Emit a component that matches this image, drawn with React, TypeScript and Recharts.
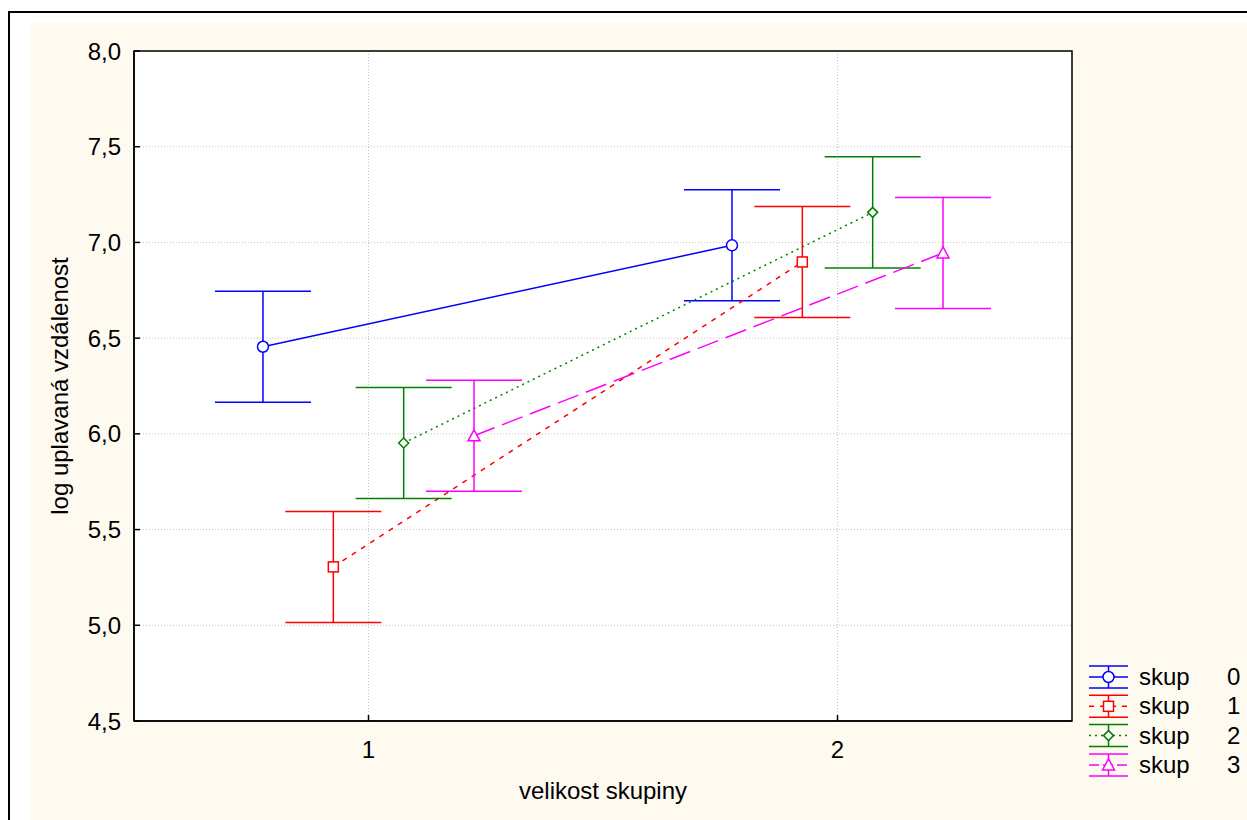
import React from "react";
import {
  ComposedChart,
  Line,
  XAxis,
  YAxis,
  CartesianGrid,
  ErrorBar,
  Legend,
  ReferenceArea,
} from "recharts";

// group sizes on the x axis, each series shifted a bit so bars don't overlap
const groups = [1, 2];
const groupOffsets = [-0.225, -0.075, 0.075, 0.225];

const seriesLabels = ["0", "1", "2", "3"];
const skup0 = [6.455, 6.985];
const skup1 = [5.305, 6.898];
const skup2 = [5.952, 7.157];
const skup3 = [5.99, 6.945];
const errSkup0 = [0.29, 0.29];
const errSkup1 = [0.29, 0.29];
const errSkup2 = [0.29, 0.29];
const errSkup3 = [0.29, 0.29];

const yTicks = [4.5, 5, 5.5, 6, 6.5, 7, 7.5, 8];
const xTicks = [1, 2];

const FONT = '"Liberation Sans", Arial, sans-serif';
const FS = 24;

type Shape = "circle" | "square" | "diamond" | "triangle";

const seriesStyle: { color: string; dash?: string; shape: Shape }[] = [
  { color: "#0000ff", shape: "circle" },
  { color: "#ff0000", dash: "5 6", shape: "square" },
  { color: "#008000", dash: "2 4", shape: "diamond" },
  { color: "#ff00ff", dash: "22 8", shape: "triangle" },
];

const values = [skup0, skup1, skup2, skup3];
const errors = [errSkup0, errSkup1, errSkup2, errSkup3];

const seriesData = values.map((vals, s) =>
  groups.map((g, i) => ({
    x: g + groupOffsets[s],
    y: vals[i],
    err: errors[s][i],
  }))
);

function Marker({ shape, cx, cy, color }: { shape: Shape; cx: number; cy: number; color: string }) {
  const common = { fill: "#fff", stroke: color, strokeWidth: 1.5 };
  if (shape === "circle") return <circle cx={cx} cy={cy} r={5.5} {...common} />;
  if (shape === "square")
    return <rect x={cx - 5} y={cy - 5} width={10} height={10} {...common} />;
  if (shape === "diamond")
    return (
      <polygon
        points={`${cx},${cy - 5} ${cx + 5},${cy} ${cx},${cy + 5} ${cx - 5},${cy}`}
        {...common}
      />
    );
  return (
    <polygon
      points={`${cx},${cy - 6} ${cx + 6},${cy + 5} ${cx - 6},${cy + 5}`}
      {...common}
    />
  );
}

const renderDot = (s: number) => (props: any) => {
  const st = seriesStyle[s];
  return (
    <Marker
      key={`dot-${s}-${props.index}`}
      shape={st.shape}
      cx={props.cx}
      cy={props.cy}
      color={st.color}
    />
  );
};

const LegendContent = () => (
  <svg width={170} height={130} style={{ overflow: "visible" }}>
    {seriesStyle.map((st, i) => {
      const cy = 17 + i * 29.3;
      return (
        <g key={i}>
          <line x1={4} x2={43} y1={cy - 11} y2={cy - 11} stroke={st.color} strokeWidth={1.5} />
          <line x1={4} x2={43} y1={cy + 11} y2={cy + 11} stroke={st.color} strokeWidth={1.5} />
          <line x1={23.5} x2={23.5} y1={cy - 11} y2={cy + 11} stroke={st.color} strokeWidth={1.5} />
          <line
            x1={4}
            x2={43}
            y1={cy}
            y2={cy}
            stroke={st.color}
            strokeWidth={1.5}
            strokeDasharray={st.dash === "22 8" ? "10 4" : st.dash}
          />
          <Marker shape={st.shape} cx={23.5} cy={cy} color={st.color} />
          <text x={54} y={cy + 8} fontSize={FS} fill="#000" fontFamily={FONT}>
            skup
          </text>
          <text x={142} y={cy + 8} fontSize={FS} fill="#000" fontFamily={FONT}>
            {seriesLabels[i]}
          </text>
        </g>
      );
    })}
  </svg>
);

const fmt = (v: number) => v.toFixed(1).replace(".", ",");

export default function App() {
  return (
    <div
      style={{
        position: "fixed",
        left: 0,
        top: 0,
        width: 1247,
        height: 820,
        overflow: "hidden",
        background: "#fff",
        fontFamily: FONT,
      }}
    >
      <div
        style={{
          position: "absolute",
          left: 8,
          top: 11,
          width: 1300,
          height: 900,
          border: "2px solid #000",
          boxSizing: "border-box",
        }}
      />
      <div
        style={{
          position: "absolute",
          left: 30,
          top: 23,
          width: 1217,
          height: 797,
          background: "#fffaf0",
        }}
      >
        <ComposedChart
          width={1217}
          height={797}
          margin={{ top: 28, right: 175, bottom: 69, left: 0 }}
        >
          <CartesianGrid stroke="#c4c4c4" strokeDasharray="1 2" fill="#fff" fillOpacity={1} />
          <XAxis
            dataKey="x"
            type="number"
            domain={[0.5, 2.5]}
            ticks={xTicks}
            allowDataOverflow
            height={30}
            tickSize={-6}
            tickMargin={26}
            tick={{ fill: "#000", fontSize: FS }}
            tickLine={{ stroke: "#000", strokeWidth: 1.5 }}
            axisLine={{ stroke: "#000", strokeWidth: 1.5 }}
            label={{
              value: "velikost skupiny",
              position: "bottom",
              offset: 31,
              style: { fill: "#000", fontSize: FS },
            }}
          />
          <YAxis
            type="number"
            domain={[4.5, 8]}
            ticks={yTicks}
            allowDataOverflow
            width={104}
            tickSize={-6}
            tickMargin={19}
            tickFormatter={fmt}
            tick={{ fill: "#000", fontSize: FS }}
            tickLine={{ stroke: "#000", strokeWidth: 1.5 }}
            axisLine={{ stroke: "#000", strokeWidth: 1.5 }}
            label={{
              value: "log uplavaná vzdálenost",
              angle: -90,
              position: "insideLeft",
              offset: 29,
              style: { fill: "#000", fontSize: FS, textAnchor: "middle" },
            }}
          />
          <ReferenceArea
            x1={0.5}
            x2={2.5}
            y1={4.5}
            y2={8}
            fill="none"
            stroke="#000"
            strokeWidth={1.5}
            ifOverflow="visible"
          />
          {seriesData.map((data, s) => (
            <Line
              key={s}
              data={data}
              dataKey="y"
              type="linear"
              stroke={seriesStyle[s].color}
              strokeWidth={1.5}
              strokeDasharray={seriesStyle[s].dash}
              dot={renderDot(s)}
              activeDot={false}
              isAnimationActive={false}
            >
              <ErrorBar
                dataKey="err"
                width={48}
                stroke={seriesStyle[s].color}
                strokeWidth={1.5}
                isAnimationActive={false}
              />
            </Line>
          ))}
          <Legend
            layout="horizontal"
            align="center"
            verticalAlign="middle"
            content={<LegendContent />}
            wrapperStyle={{ left: 1055, top: 637, width: 170, height: 130 }}
          />
        </ComposedChart>
      </div>
    </div>
  );
}
